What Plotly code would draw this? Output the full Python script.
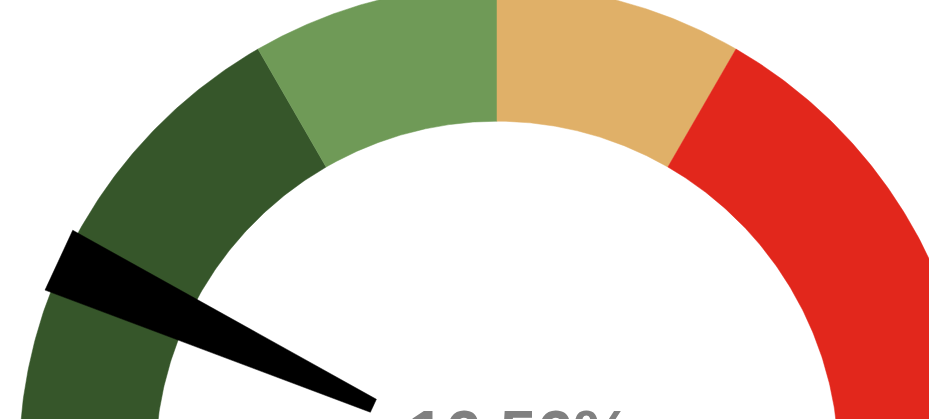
import numpy as np
import plotly.graph_objects as go

# ---- data ----
gauge_min = 0
gauge_max = 120
band_edges = [0, 40, 60, 80, 120]
band_colors = ["#36562a", "#6f9a57", "#e0b068", "#e2271c"]
value = 16.56
value_label = "16.56%"

# ---- geometry (style) ----
R_OUT = 1.0
R_IN = 0.715
W, H = 929, 419
CX_PX, CY_PX, SCALE = 497, 463, 478.0

def ang(v):
    frac = (v - gauge_min) / (gauge_max - gauge_min)
    return np.pi * (1 - frac)

fig = go.Figure()
for i, col in enumerate(band_colors):
    a0, a1 = ang(band_edges[i]), ang(band_edges[i + 1])
    t = np.linspace(a0, a1, 120)
    xs = np.concatenate([R_OUT * np.cos(t), R_IN * np.cos(t[::-1])])
    ys = np.concatenate([R_OUT * np.sin(t), R_IN * np.sin(t[::-1])])
    xs = np.append(xs, xs[0]); ys = np.append(ys, ys[0])
    fig.add_trace(go.Scatter(x=xs, y=ys, mode="lines", fill="toself",
                             fillcolor=col, line=dict(color=col, width=0.5),
                             hoverinfo="skip", showlegend=False))

# needle (trapezoid along value angle)
a = ang(value)
ux, uy = np.cos(a), np.sin(a)
px, py = -uy, ux
r_tip, w_tip = 1.01, 0.069
r_base, w_base = 0.285, 0.015
nx = [r_tip * ux + w_tip * px, r_tip * ux - w_tip * px,
      r_base * ux - w_base * px, r_base * ux + w_base * px]
ny = [r_tip * uy + w_tip * py, r_tip * uy - w_tip * py,
      r_base * uy - w_base * py, r_base * uy + w_base * py]
nx.append(nx[0]); ny.append(ny[0])
fig.add_trace(go.Scatter(x=nx, y=ny, mode="lines", fill="toself",
                         fillcolor="black", line=dict(color="black", width=0.5),
                         hoverinfo="skip", showlegend=False))

x0 = -CX_PX / SCALE
x1 = (W - CX_PX) / SCALE
y0 = (CY_PX - H) / SCALE
y1 = CY_PX / SCALE

fig.add_annotation(x=(520 - CX_PX) / SCALE, y=(CY_PX - 395) / SCALE,
                   xref="x", yref="y", text="<b>" + value_label + "</b>",
                   showarrow=False, xanchor="center", yanchor="top",
                   font=dict(family="Liberation Sans, Arial", size=66, color="#808080"))

fig.update_layout(width=W, height=H, margin=dict(l=0, r=0, t=0, b=0),
                  paper_bgcolor="white", plot_bgcolor="white",
                  xaxis=dict(range=[x0, x1], visible=False, fixedrange=True),
                  yaxis=dict(range=[y0, y1], visible=False, fixedrange=True),
                  showlegend=False)

fig.write_html("out.html", config={"displayModeBar": False},
               post_script="document.body.style.margin='0';document.body.style.overflow='hidden';")
